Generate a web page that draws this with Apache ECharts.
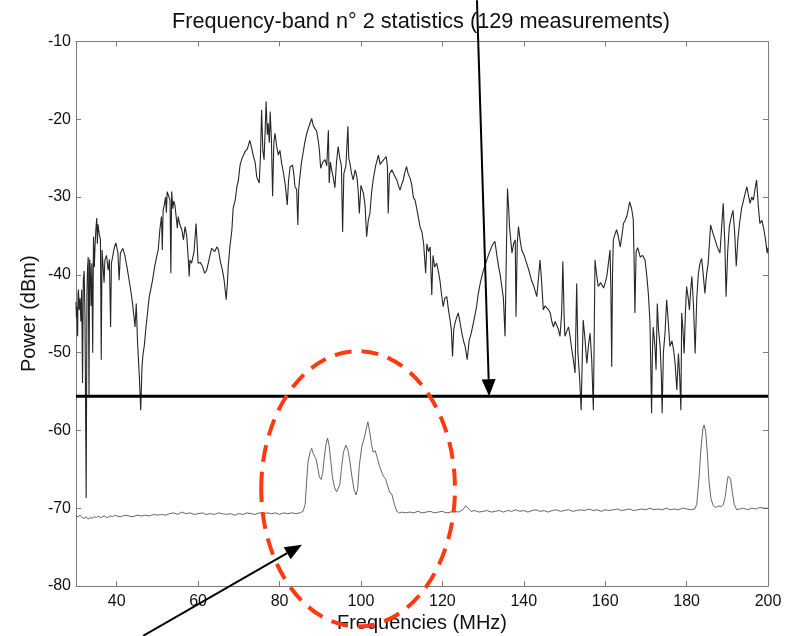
<!DOCTYPE html>
<html>
<head>
<meta charset="utf-8">
<script src="https://cdn.jsdelivr.net/npm/echarts@6/dist/echarts.min.js"></script>
<style>html,body{margin:0;padding:0;background:#fff;}#c{width:787px;height:636px;}</style>
</head>
<body>
<div id="c"></div>
<script>
const titleText = 'Frequency-band n° 2 statistics (129 measurements)';
const xName = 'Frequencies (MHz)';
const yName = 'Power (dBm)';
const xTicks = [40, 60, 80, 100, 120, 140, 160, 180, 200];
const yTicks = [-80, -70, -60, -50, -40, -30, -20, -10];
const thresholdDbm = -55.6;

// Upper trace (max over measurements): [MHz, dBm]
const upperTrace = [
[30.0,-43.5],[30.1,-45.5],[30.2,-44.1],[30.4,-47.9],[30.5,-42.5],[30.6,-41.9],[30.8,-44.5],[31.0,-43.0],[31.2,-46],[31.4,-41.9],[31.6,-53.9],[31.8,-40.7],[32.0,-39.5],[32.2,-45],[32.5,-68.7],
[32.7,-42],[32.85,-39],[33.0,-37.7],[33.2,-55.7],[33.35,-38],[33.5,-39],[33.7,-44],[33.9,-38.5],[34.1,-50.0],[34.3,-35.1],[34.5,-39],[34.7,-36],[34.9,-34],[35.1,-32.7],[35.25,-36],[35.4,-33.5],
[35.7,-34.7],[36.0,-35.5],[36.2,-50.9],[36.4,-36.8],[36.7,-37],[36.9,-41],[37.1,-38.1],[37.5,-37.5],[37.9,-39.4],[38.2,-38],[38.5,-46.7],[38.7,-38.5],[39.0,-37.7],
[39.4,-36.5],[39.8,-35.9],[40.3,-37.2],[40.6,-40.7],[40.9,-37.2],[41.5,-36.6],[42.0,-37.5],[42.5,-38.9],[43.3,-41.5],[43.9,-43.7],
[44.5,-46.7],[44.8,-43.7],[45.1,-48.4],[45.6,-53.5],[45.9,-57.4],[46.2,-52],[46.4,-50.5],[46.8,-49],[47.2,-46.7],[48.0,-42.8],
[48.8,-40.7],[49.3,-39],[49.8,-37.7],[50.2,-36.8],[50.6,-34.2],[51.0,-32.5],[51.2,-36.8],[51.4,-31.7],[51.7,-31],[52.0,-30],[52.2,-32],[52.4,-29.3],
[52.7,-29.1],[53.1,-30.4],[53.3,-39.8],[53.5,-29.3],[53.8,-31.5],[54.0,-30.5],[54.3,-31.0],[54.7,-31.0],[54.9,-34],[55.1,-32.5],[55.5,-33.5],[56.0,-34.2],
[56.4,-35.5],[56.8,-33.8],[57.2,-35],[57.6,-38.1],[57.8,-40.2],[58.0,-38.1],[58.4,-38.5],[59.0,-37],[59.5,-33.4],[59.7,-33.6],
[60.0,-38.5],[60.5,-38.4],[61.1,-38.9],[61.6,-39.8],[62.1,-39.4],[62.7,-38],[63.3,-36.6],[63.7,-36.4],[64.1,-37],[64.6,-36.4],
[65.0,-36.8],[65.4,-38.1],[66.0,-39.5],[66.4,-40.7],[66.9,-43.2],[67.2,-41],[67.4,-38.9],[67.8,-36.4],[68.3,-34.2],[68.6,-31.5],
[69.1,-30.4],[69.5,-28.8],[69.9,-27.8],[70.3,-25.9],[70.8,-25],[71.5,-24.2],[72.1,-23.8],[72.7,-22.7],[73.2,-23.8],[73.6,-24.8],
[74.0,-25.5],[74.4,-27.4],[75.0,-28.2],[75.3,-25],[75.6,-18.8],[75.9,-24],[76.2,-25.2],[76.5,-21],[76.7,-17.7],[77.0,-22],
[77.2,-20.5],[77.5,-23],[77.7,-19.0],[78.0,-22.5],[78.3,-29.9],[78.6,-23],[78.9,-21.8],[79.3,-23.5],[79.7,-24.6],[80.1,-24],
[80.5,-25.6],[81.0,-27],[81.4,-28.4],[81.9,-31.0],[82.2,-28],[82.6,-26.1],[83.2,-25.9],[83.5,-27],[83.8,-28.7],[84.2,-29],
[84.5,-33.6],[84.7,-29],[85.0,-27.4],[85.4,-25.5],[85.8,-24.3],[86.2,-23],[86.7,-21.8],[87.3,-20.8],[87.9,-19.9],[88.3,-20.8],
[88.7,-21.2],[89.1,-21.5],[89.5,-22.7],[89.8,-24],[90.1,-26.3],[90.6,-25.5],[91.2,-25.2],[91.6,-26],[92.0,-21.4],[92.2,-28.2],
[92.5,-25.5],[92.8,-26.5],[93.2,-27.5],[93.6,-28.8],[94.0,-25.5],[94.4,-23.5],[94.8,-25],[95.2,-26],[95.5,-34.5],[95.8,-27],
[96.3,-26],[96.8,-20.9],[97.0,-25],[97.3,-25.7],[97.7,-27],[98.1,-27.8],[98.6,-26.5],[99.0,-27.4],[99.3,-29],[99.6,-32.1],
[100.0,-28.5],[100.6,-29.5],[101.0,-31],[101.4,-35.1],[101.8,-33],[102.2,-32.1],[102.6,-29.5],[103.0,-27.8],[103.6,-26],[104.3,-24.6],
[104.7,-25.8],[105.1,-25.5],[105.6,-25.2],[106.2,-24.8],[106.5,-26],[106.7,-32.1],[107.0,-27],[107.6,-26.5],[108.2,-27.2],[108.8,-27.8],
[109.2,-28.5],[109.6,-29.1],[110.0,-28.4],[110.4,-27.8],[110.8,-26.8],[111.2,-26.1],[111.6,-27],[112.1,-27.6],[112.5,-28.5],[112.9,-30.1],
[113.3,-30.4],[113.9,-32],[114.5,-33.8],[115.0,-34.5],[115.4,-36],[115.7,-35.9],[115.9,-39.8],[116.2,-36],[116.6,-37],[117.0,-36.4],
[117.4,-42.6],[117.7,-37.5],[118.1,-39],[118.6,-38.5],[119.0,-39.5],[119.4,-40.7],[119.8,-42.5],[120.2,-44.1],[120.6,-43],[121.1,-42.8],
[121.5,-44.5],[121.9,-45.8],[122.2,-47],[122.5,-50.5],[122.8,-47],[123.1,-46.2],[123.5,-45.5],[123.9,-44.9],[124.3,-46],[124.8,-47.5],
[125.2,-48.5],[125.6,-49.2],[126.1,-50.9],[126.6,-48.4],[127.1,-47.5],[127.6,-46.2],[128.0,-45.2],[128.4,-44.1],[128.8,-42.5],[129.3,-41.1],
[129.7,-40.2],[130.1,-39.4],[130.5,-38.8],[130.9,-38.1],[131.5,-37.2],[132.1,-36.4],[132.5,-36],[132.9,-35.7],[133.4,-37.5],[133.8,-38.9],
[134.2,-40],[134.6,-41.5],[135.0,-43],[135.4,-47.9],[135.7,-38],[136.0,-28.9],[136.3,-31.5],[136.5,-33.8],[136.8,-35.5],[137.1,-37.2],
[137.5,-36],[137.9,-35.5],[138.1,-45.4],[138.4,-36],[138.7,-33.8],[139.1,-35.5],[139.5,-36.8],[140.1,-37.5],[140.7,-38.5],[141.3,-39.5],
[141.9,-40.7],[142.5,-41.5],[143.2,-42.8],[143.6,-40.5],[144.0,-38.1],[144.4,-41],[144.8,-44.5],[145.2,-44],[145.6,-44.1],[146.1,-44.5],
[146.5,-44.9],[146.9,-46],[147.3,-46.7],[147.7,-46],[148.1,-45.8],[148.5,-47],[148.9,-47.9],[149.3,-45],[149.6,-38.3],[149.9,-45],
[150.1,-47.9],[150.6,-47.2],[151.0,-46.7],[151.4,-48],[151.8,-49.6],[152.2,-51],[152.6,-52.6],[153.0,-41.1],[153.3,-50],[153.7,-53.1],
[154.1,-57.4],[154.4,-50],[154.6,-45.8],[155.0,-48],[155.5,-51.4],[155.9,-49],[156.3,-47.5],[156.7,-51],[157.1,-57.4],[157.3,-48],
[157.5,-38.1],[157.9,-40],[158.3,-41.5],[158.9,-41],[159.6,-41.7],[160.0,-41],[160.4,-40.2],[160.8,-38.5],[161.2,-36.8],[161.4,-42],
[161.6,-51.8],[161.8,-40],[162.0,-35.5],[162.4,-34.8],[162.8,-34.2],[163.2,-35],[163.7,-36.4],[164.1,-35],[164.5,-33.4],[164.9,-33],
[165.3,-32.5],[165.7,-31.5],[166.0,-30.6],[166.5,-31.5],[166.9,-32.9],[167.1,-38],[167.3,-44.9],[167.6,-37],[168.0,-36.5],[168.2,-36.4],
[168.6,-37.7],[169.2,-37.5],[169.8,-38.1],[170.2,-40],[170.6,-42.4],[171.0,-46],[171.4,-57.8],[171.6,-50],[171.8,-46.7],[172.2,-49],
[172.5,-52.2],[172.8,-43.7],[173.1,-47],[173.5,-49.2],[173.8,-53],[174.0,-57.8],[174.3,-50],[174.7,-47.5],[175.1,-43.2],[175.5,-46],
[175.9,-49.2],[176.4,-48.5],[176.8,-49.6],[177.2,-51.5],[177.6,-54.8],[178.0,-50.1],[178.3,-53],[178.6,-57.4],[178.8,-44.9],[179.1,-47],
[179.4,-50.1],[179.7,-45],[180.0,-41.5],[180.4,-43],[180.7,-44.5],[181.0,-42],[181.3,-40.2],[181.7,-44],[182.1,-50.1],[182.5,-43],
[182.9,-39.8],[183.3,-38.5],[183.7,-37.9],[184.1,-40],[184.5,-42.4],[184.9,-40],[185.3,-38.5],[185.6,-36],[185.9,-33.6],[186.4,-34.5],
[187.0,-35.5],[187.6,-36.5],[188.2,-37.2],[188.6,-34],[189.0,-30.8],[189.4,-36],[189.7,-42.8],[190.1,-37],[190.5,-33.8],[191.0,-32.5],
[191.4,-31.7],[191.8,-34.5],[192.2,-38.9],[192.6,-35.5],[193.0,-33.4],[193.5,-31.5],[194.0,-30.4],[194.4,-29.5],[194.8,-28.7],[195.2,-29.8],
[195.6,-30.8],[196.0,-30],[196.4,-30.4],[196.8,-29],[197.2,-27.8],[197.6,-31],[198.0,-33.4],[198.5,-33],[199.0,-34.2],[199.4,-35.5],
[199.8,-37.2],[200.0,-36.5]
];

// Lower trace (mean over measurements): [MHz, dBm]
const lowerTrace = [
[30,-71.0],[30.5,-71.1],[31,-70.9],[31.5,-71.2],[32,-71.3],[32.5,-71.1],[33,-71.4],[33.5,-71.2],[34,-71.3],[34.5,-71.1],
[35,-71.2],[35.5,-71.0],[36,-71.2],[36.5,-71.1],[37,-71.0],[37.5,-71.2],[38,-71.1],[38.5,-71.0],[39,-71.1],[39.5,-70.9],
[40,-71.0],[41,-71.1],[42,-70.9],[43,-71.0],[44,-71.1],[45,-70.9],[46,-71.0],[47,-70.9],[48,-71.0],[49,-70.8],
[50,-70.9],[51,-70.8],[52,-70.9],[53,-70.7],[54,-70.6],[55,-70.8],[56,-70.5],[57,-70.7],[58,-70.6],[59,-70.8],
[60,-70.7],[61,-70.6],[62,-70.8],[63,-70.7],[64,-70.8],[65,-70.6],[66,-70.7],[67,-70.8],[68,-70.7],[69,-70.9],
[70,-70.7],[71,-70.8],[72,-70.6],[73,-70.7],[74,-70.8],[75,-70.6],[76,-70.7],[77,-70.6],[78,-70.7],[79,-70.6],
[80,-70.8],[81,-70.6],[82,-70.7],[83,-70.6],[84,-70.7],[85,-70.6],[85.8,-70.4],[86.3,-69.5],[86.6,-67],[87.0,-64],
[87.5,-62.8],[87.9,-62.3],[88.3,-63.0],[88.7,-63.4],[89.0,-63.7],[89.4,-64.8],[89.8,-66.0],[90.2,-66.3],[90.6,-65.5],[91.0,-63.5],
[91.4,-61.8],[91.8,-61.0],[92.2,-62.0],[92.6,-64.0],[93.0,-66],[93.5,-67.3],[94.0,-67.9],[94.4,-68.0],[94.8,-67.0],[95.2,-65],
[95.7,-62.8],[96.3,-61.9],[96.8,-62.5],[97.3,-64],[97.8,-66],[98.3,-67.6],[98.8,-68.3],[99.2,-67.5],[99.6,-64.5],[100.2,-62.1],
[100.8,-61.0],[101.3,-59.8],[101.7,-58.9],[102.1,-60.0],[102.6,-61.8],[103.0,-62.8],[103.5,-62.6],[104.0,-63.5],[104.5,-64.5],[105.0,-65.2],
[105.5,-65.9],[106.0,-66.2],[106.5,-67.0],[107.1,-68.0],[107.6,-68.2],[108.2,-69.5],[108.8,-70.4],[109.5,-70.6],[110,-70.5],[111,-70.6],
[112,-70.5],[113,-70.6],[114,-70.4],[115,-70.6],[116,-70.5],[117,-70.4],[118,-70.6],[119,-70.5],[120,-70.4],[121,-70.6],
[122,-70.5],[123,-70.4],[124,-70.5],[125,-70.2],[125.8,-69.7],[126.5,-70.1],[127,-70.4],[128,-70.3],[129,-70.5],[130,-70.4],
[131,-70.3],[132,-70.5],[133,-70.4],[134,-70.3],[135,-70.5],[136,-70.3],[137,-70.4],[138,-70.2],[139,-70.4],[140,-70.3],
[141,-70.5],[142,-70.3],[143,-70.2],[144,-70.4],[145,-70.3],[146,-70.5],[147,-70.3],[148,-70.2],[149,-70.4],[150,-70.3],
[151,-70.2],[152,-70.4],[153,-70.3],[154,-70.2],[155,-70.3],[156,-70.1],[157,-70.3],[158,-70.2],[159,-70.4],[160,-70.2],
[161,-70.3],[162,-70.2],[163,-70.1],[164,-70.3],[165,-70.2],[166,-70.1],[167,-70.3],[168,-70.2],[169,-70.1],[170,-70.2],
[171,-70.0],[172,-70.2],[173,-70.1],[174,-70.2],[175,-70.0],[176,-70.2],[177,-70.1],[178,-70.2],[179,-70.0],[180,-70.1],
[181,-70.2],[182,-70.1],[182.5,-69.5],[183,-66.5],[183.5,-62.5],[184,-59.8],[184.3,-59.3],[184.7,-60.2],[185.1,-63],[185.5,-66.5],
[186,-68.8],[186.5,-69.6],[187,-69.9],[187.5,-69.8],[188,-69.7],[188.5,-69.8],[189,-69.6],[189.5,-68.5],[189.9,-66.8],[190.2,-65.9],
[190.5,-65.7],[190.8,-66.2],[191.2,-67.8],[191.7,-69.5],[192.3,-70.2],[193,-70.1],[194,-70.0],[195,-70.2],[196,-70.0],[197,-70.1],
[198,-69.9],[199,-70.0],[200,-70.0]
];

// Annotation anchors in data coordinates
const arrowTop = [[128.5, -4.7], [131.5, -55.6]];
const arrowBottom = [[46.5, -86.4], [85.5, -74.7]];
const ellipseCenter = [99.3, -67.5];
const ellipseRadius = [23.8, 17.7];

const FONT = '"Liberation Sans", Arial, sans-serif';
const axisGray = '#7a7a7a';
const chart = echarts.init(document.getElementById('c'), null, {renderer: 'canvas'});

const baseX = {
  type: 'value', min: 30, max: 200,
  axisLine: {show: true, onZero: false, lineStyle: {color: axisGray, width: 1}},
  axisTick: {show: true, inside: true, length: 5, customValues: xTicks, lineStyle: {color: axisGray}},
  splitLine: {show: false}
};
const baseY = {
  type: 'value', min: -80, max: -10, interval: 10,
  axisLine: {show: true, onZero: false, lineStyle: {color: axisGray, width: 1}},
  axisTick: {show: true, inside: true, length: 5, lineStyle: {color: axisGray}},
  splitLine: {show: false}
};

chart.setOption({
  animation: false,
  backgroundColor: '#ffffff',
  title: {
    text: titleText, left: 416, top: 6, textAlign: 'center',
    textStyle: {fontFamily: FONT, fontSize: 21.7, fontWeight: 'normal', color: '#111'}
  },
  grid: {left: 76, right: 19, top: 41.5, bottom: 50, containLabel: false, outerBoundsMode: 'none'},
  xAxis: [
    Object.assign({}, baseX, {
      position: 'bottom',
      axisLabel: {show: true, customValues: xTicks, margin: 8, color: '#111', fontFamily: FONT, fontSize: 16},
      name: xName, nameLocation: 'middle', nameGap: 27, nameMoveOverlap: false,
      nameTextStyle: {fontFamily: FONT, fontSize: 20, color: '#111'}
    }),
    Object.assign({}, baseX, {position: 'top', axisLabel: {show: false}})
  ],
  yAxis: [
    Object.assign({}, baseY, {
      position: 'left',
      axisLabel: {show: true, margin: 5, color: '#111', fontFamily: FONT, fontSize: 16},
      name: yName, nameLocation: 'middle', nameGap: 37, nameMoveOverlap: false,
      nameTextStyle: {fontFamily: FONT, fontSize: 20, color: '#111'}
    }),
    Object.assign({}, baseY, {position: 'right', axisLabel: {show: false}})
  ],
  series: [
    {
      type: 'line', data: upperTrace, showSymbol: false, symbol: 'none',
      lineStyle: {color: '#262626', width: 1.1}, z: 3
    },
    {
      type: 'line', data: lowerTrace, showSymbol: false, symbol: 'none',
      lineStyle: {color: '#555555', width: 0.9}, z: 3
    },
    {
      type: 'line', data: [[30, thresholdDbm], [200, thresholdDbm]], showSymbol: false, symbol: 'none',
      lineStyle: {color: '#000000', width: 3}, z: 4
    }
  ]
});

function px(p) { return chart.convertToPixel({xAxisIndex: 0, yAxisIndex: 0}, p); }
function arrow(a, b) {
  const p0 = px(a), p1 = px(b);
  const dx = p1[0] - p0[0], dy = p1[1] - p0[1];
  const L = Math.sqrt(dx * dx + dy * dy), ux = dx / L, uy = dy / L;
  const hl = 17, hw = 7;
  const bx = p1[0] - ux * hl, by = p1[1] - uy * hl;
  return [
    {type: 'line', z: 100, shape: {x1: p0[0], y1: p0[1], x2: bx, y2: by}, style: {stroke: '#000', lineWidth: 2}},
    {type: 'polygon', z: 100, shape: {points: [[p1[0], p1[1]], [bx - uy * hw, by + ux * hw], [bx + uy * hw, by - ux * hw]]}, style: {fill: '#000'}}
  ];
}
const c = px(ellipseCenter);
const cr = px([ellipseCenter[0] + ellipseRadius[0], ellipseCenter[1] + ellipseRadius[1]]);
chart.setOption({
  graphic: [].concat(
    arrow(arrowTop[0], arrowTop[1]),
    arrow(arrowBottom[0], arrowBottom[1]),
    [{type: 'ellipse', z: 99, shape: {cx: c[0], cy: c[1], rx: Math.abs(cr[0] - c[0]), ry: Math.abs(cr[1] - c[1])},
      style: {fill: 'none', stroke: '#ff3a12', lineWidth: 4, lineDash: [17, 10]}}]
  )
});
</script>
</body>
</html>
